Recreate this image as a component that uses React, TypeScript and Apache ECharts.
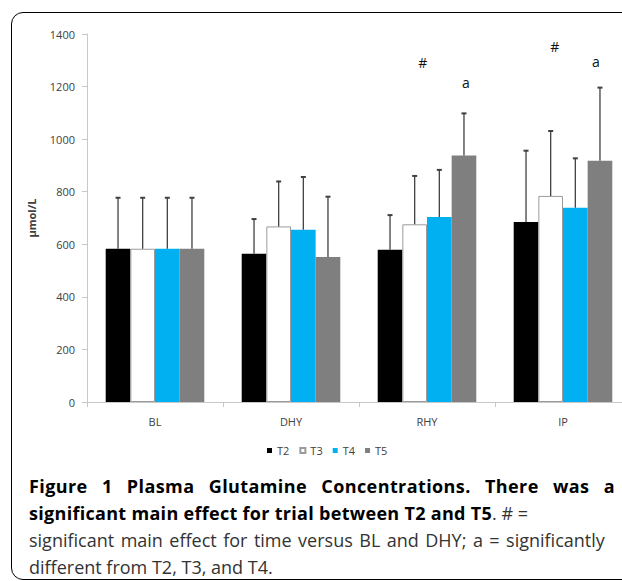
import React, { useEffect, useRef } from "react";
import * as echarts from "echarts";

const categories = ["BL", "DHY", "RHY", "IP"];
const seriesNames = ["T2", "T3", "T4", "T5"];
const seriesColors = ["#000000", "#ffffff", "#00b0f0", "#7f7f7f"];

const t2Means = [583, 564, 579, 685];
const t3Means = [583, 668, 676, 784];
const t4Means = [583, 655, 704, 739];
const t5Means = [583, 552, 938, 918];

const t2Sd = [194, 132, 132, 271];
const t3Sd = [194, 171, 184, 247];
const t4Sd = [194, 201, 179, 188];
const t5Sd = [194, 229, 160, 278];

const yMin = 0;
const yMax = 1400;
const yInterval = 200;

// annotations: [category, value, label]
const hashMarks: [string, number, string][] = [
  ["RHY", 1291, "#"],
  ["IP", 1351, "#"],
];
const aMarks: [string, number, string][] = [
  ["RHY", 1214, "a"],
  ["IP", 1296, "a"],
];

const allMeans = [t2Means, t3Means, t4Means, t5Means];
const allSd = [t2Sd, t3Sd, t4Sd, t5Sd];

const GAP = 0.275;
const FONT = '"Open Sans", sans-serif';

export default function App() {
  const ref = useRef<HTMLDivElement>(null);

  useEffect(() => {
    if (!ref.current) return;
    const chart = echarts.init(ref.current, null, { renderer: "svg" });

    const barSeries = seriesNames.map((name, idx) => {
      const s: any = {
        type: "bar",
        name,
        data: allMeans[idx],
        barGap: "0%",
        barCategoryGap: GAP * 100 + "%",
        itemStyle:
          idx === 1
            ? { color: seriesColors[idx], borderColor: "#9a9a9a", borderWidth: 1 }
            : { color: seriesColors[idx] },
        emphasis: { disabled: true },
        z: 2,
      };
      const marks = idx === 1 ? hashMarks : idx === 3 ? aMarks : null;
      if (marks) {
        const offsets = idx === 1 ? [8, 4] : [2, -4];
        s.markPoint = {
          symbol: "rect",
          symbolSize: 1,
          itemStyle: { color: "rgba(0,0,0,0)" },
          label: {
            show: true,
            position: "inside",
            color: "#111",
            fontSize: 14,
            fontFamily: FONT,
          },
          data: marks.map((m, k) => ({
            coord: [m[0], m[1]],
            label: { formatter: m[2], offset: [offsets[k], 0] },
          })),
        };
      }
      return s;
    });

    const errSeries = seriesNames.map((name, idx) => ({
      type: "custom",
      name: name + " SD",
      z: 3,
      data: allMeans[idx].map((m, i) => [i, m, allSd[idx][i]]),
      encode: { x: 0, y: 1 },
      renderItem: (params: any, api: any) => {
        const c = api.value(0);
        const m = api.value(1);
        const s = api.value(2);
        const base = api.coord([c, m]);
        const top = api.coord([c, m + s]);
        const band = api.size([1, 0])[0];
        const barW = (band * (1 - GAP)) / 4;
        const x = base[0] + (idx - 1.5) * barW;
        return {
          type: "group",
          children: [
            {
              type: "line",
              shape: { x1: x, y1: base[1], x2: x, y2: top[1] },
              style: { stroke: "#404040", lineWidth: 1.3 },
            },
            {
              type: "line",
              shape: { x1: x - 2.5, y1: top[1], x2: x + 2.5, y2: top[1] },
              style: { stroke: "#404040", lineWidth: 2 },
            },
          ],
        };
      },
    }));

    chart.setOption({
      animation: false,
      backgroundColor: "transparent",
      textStyle: { fontFamily: FONT },
      grid: { left: 87, top: 34, width: 544, height: 368, containLabel: false },
      legend: {
        data: seriesNames,
        left: 267,
        top: 445,
        padding: 0,
        itemWidth: 5,
        itemHeight: 5,
        itemGap: 10,
        icon: "rect",
        selectedMode: false,
        textStyle: { fontSize: 11, color: "#404040", fontFamily: FONT },
      },
      xAxis: {
        type: "category",
        data: categories,
        axisLine: { show: true, lineStyle: { color: "#c8c8c8", width: 1 } },
        axisTick: { show: true, length: 5, lineStyle: { color: "#c8c8c8" } },
        axisLabel: { fontSize: 11, color: "#404040", margin: 14, fontFamily: FONT },
      },
      yAxis: {
        type: "value",
        min: yMin,
        max: yMax,
        interval: yInterval,
        name: "\u00b5mol/L",
        nameLocation: "middle",
        nameGap: 50,
        nameTextStyle: { fontSize: 11, fontWeight: "bold", color: "#404040", fontFamily: FONT },
        axisLine: { show: true, lineStyle: { color: "#c8c8c8", width: 1 } },
        axisTick: { show: true, length: 5, lineStyle: { color: "#c8c8c8" } },
        axisLabel: {
          fontSize: 11,
          color: "#404040",
          margin: 12,
          fontFamily: FONT,
          formatter: (v: number) => String(v),
        },
        splitLine: { show: false },
      },
      series: [...barSeries, ...errSeries],
    });

    return () => chart.dispose();
  }, []);

  return (
    <div
      style={{
        position: "fixed",
        left: 0,
        top: 0,
        width: 622,
        height: 581,
        overflow: "hidden",
        background: "#fff",
      }}
    >
      <div
        style={{
          position: "absolute",
          left: 10.5,
          top: 11.5,
          width: 720,
          height: 568,
          border: "1.5px solid #000",
          borderRadius: 12,
          boxSizing: "border-box",
        }}
      />
      <div ref={ref} style={{ position: "absolute", left: 0, top: 0, width: 660, height: 470 }} />
      <div
        style={{
          position: "absolute",
          left: 29,
          top: 473,
          width: 586,
          fontFamily: FONT,
          fontSize: 18,
          lineHeight: "27px",
          color: "#333",
        }}
      >
        <div
          style={{
            fontWeight: 700,
            color: "#000",
            letterSpacing: "0.4px",
            textAlign: "justify",
            textAlignLast: "justify",
          }}
        >
          Figure 1 Plasma Glutamine Concentrations. There was a
        </div>
        <div style={{ whiteSpace: "nowrap" }}>
          <span style={{ fontWeight: 700, color: "#000", letterSpacing: "0.3px" }}>
            significant main effect for trial between T2 and T5
          </span>
          . # =
        </div>
        <div style={{ whiteSpace: "nowrap", wordSpacing: "1.8px" }}>
          significant main effect for time versus BL and DHY; a = significantly
        </div>
        <div style={{ whiteSpace: "nowrap" }}>different from T2, T3, and T4.</div>
      </div>
    </div>
  );
}
